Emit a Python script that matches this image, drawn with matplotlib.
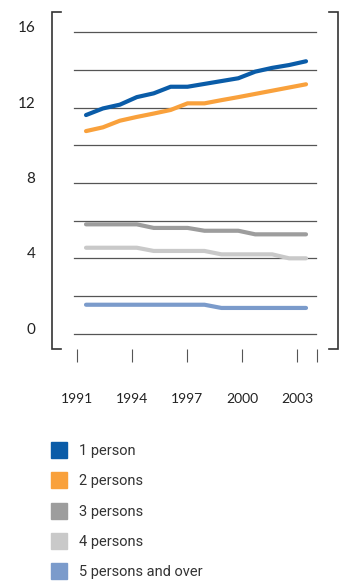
import numpy as np
import matplotlib
matplotlib.use("Agg")
import matplotlib.pyplot as plt
from matplotlib.patches import Rectangle

# household size shares, 14 annual observations
one_person = [11.6, 11.95, 12.15, 12.55, 12.75, 13.1, 13.1, 13.25, 13.4, 13.55, 13.9, 14.1, 14.25, 14.45]
two_persons = [10.75, 10.95, 11.3, 11.5, 11.68, 11.87, 12.22, 12.22, 12.39, 12.55, 12.72, 12.89, 13.06, 13.23]
three_persons = [5.81, 5.81, 5.81, 5.81, 5.62, 5.62, 5.62, 5.47, 5.47, 5.47, 5.28, 5.28, 5.28, 5.28]
four_persons = [4.57, 4.57, 4.57, 4.57, 4.40, 4.40, 4.40, 4.40, 4.22, 4.22, 4.22, 4.22, 4.01, 4.01]
five_plus = [1.55, 1.55, 1.55, 1.55, 1.55, 1.55, 1.55, 1.55, 1.38, 1.38, 1.38, 1.38, 1.38, 1.38]

series = [one_person, two_persons, three_persons, four_persons, five_plus]
labels = ["1 person", "2 persons", "3 persons", "4 persons", "5 persons and over"]
colors = ["#0a5ca8", "#f9a13c", "#9d9d9d", "#c9c9c9", "#7b9bcb"]

year_labels = ["1991", "1994", "1997", "2000", "2003", ""]
year_ticks = [1991, 1994, 1997, 2000, 2003, 2004.1]
y_labels = [0, 4, 8, 12, 16]

W, H = 345, 582
fig = plt.figure(figsize=(W / 100, H / 100), dpi=100)
ax = fig.add_axes([52 / W, 1 - 349 / H, 286 / W, 337 / H])

x = np.arange(len(one_person))
for vals, c in zip(series[::-1], colors[::-1]):
    ax.plot(x, vals, color=c, lw=3.0, solid_capstyle="round", solid_joinstyle="round", zorder=3)

ax.set_xlim(-2.01, 14.89)
ax.set_ylim(-0.795, 17.06)

# horizontal rules every 2 units
for g in range(0, 17, 2):
    ax.axhline(g, xmin=22 / 286, xmax=264 / 286, color="#555555", lw=0.9, zorder=1)

# year ticks hang below the frame; the data sit between the yearly marks
tick_pos = [(yr - 1991) * 13 / 12 - 0.53 for yr in year_ticks]
ax.set_xticks(tick_pos)
ax.set_xticklabels(year_labels, fontsize=10, color="#222222", family="Lato")
ax.tick_params(axis="x", direction="out", length=9.5, width=0.8, color="#555555", pad=22)

ax.set_yticks(y_labels)
ax.set_yticklabels([str(v) for v in y_labels], fontsize=11, color="#222222", family="Lato")
ax.tick_params(axis="y", length=0, pad=12)
for lbl in ax.get_yticklabels():
    lbl.set_va("baseline")

for s in ax.spines.values():
    s.set_visible(False)

# bracket-style frame
foot = 9 / 286
kw = dict(transform=ax.transAxes, clip_on=False, color="#333333", lw=1.2, solid_joinstyle="miter")
ax.plot([foot, 0, 0, foot], [1, 1, 0, 0], **kw)
ax.plot([1 - foot, 1, 1, 1 - foot], [1, 1, 0, 0], **kw)

# legend
for i, (lab, c) in enumerate(zip(labels, colors)):
    yc = 450 + i * 30.3
    fig.patches.append(Rectangle((51 / W, 1 - (yc + 8) / H), 16 / W, 16 / H,
                                 transform=fig.transFigure, color=c))
    fig.text(79 / W, 1 - (yc + 1) / H, lab, fontsize=10.5, color="#333333",
             family="Roboto", va="center", ha="left")

fig.savefig("out.png", dpi=100)
